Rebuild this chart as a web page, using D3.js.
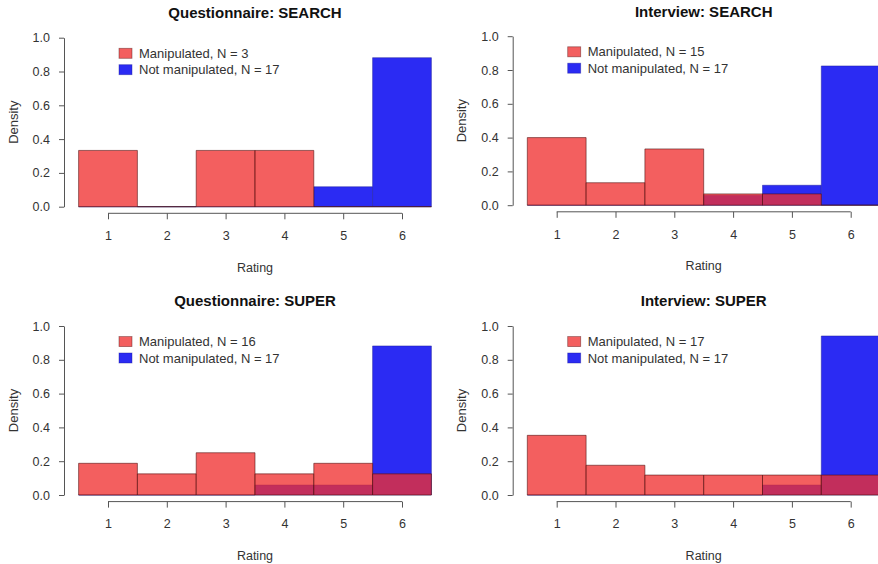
<!DOCTYPE html>
<html>
<head>
<meta charset="utf-8">
<script src="https://cdn.jsdelivr.net/npm/d3@7"></script>
<style>
  body { margin: 0; background: #fff; }
  svg { display: block; font-family: "Liberation Sans", Arial, sans-serif; }
</style>
</head>
<body>
<svg id="chart"></svg>
<script>
// Размеры
const width = 878;
const height = 564;

// Данные: плотность оценок по панелям
const ratings = [1, 2, 3, 4, 5, 6];
const yTicks = [0, 0.2, 0.4, 0.6, 0.8, 1.0];
const panelTitles = ["Questionnaire: SEARCH", "Interview: SEARCH", "Questionnaire: SUPER", "Interview: SUPER"];
const manipulatedN = [3, 15, 16, 17];
const notManipulatedN = [17, 17, 17, 17];
const manipulatedDensity = [
    [0.333, 0, 0.333, 0.333, 0, 0],
    [0.4, 0.133, 0.333, 0.067, 0.067, 0],
    [0.1875, 0.125, 0.25, 0.125, 0.1875, 0.125],
    [0.353, 0.176, 0.118, 0.118, 0.118, 0.118]
];
const notManipulatedDensity = [
    [0, 0, 0, 0, 0.118, 0.882],
    [0, 0, 0, 0.059, 0.118, 0.824],
    [0, 0, 0, 0.059, 0.059, 0.882],
    [0, 0, 0, 0, 0.059, 0.941]
];

// Смещения панелей
const offsets = [[0, 0], [448.7, -1.5], [0, 288.3], [448.7, 288.3]];

const redFill = "rgb(239,47,47)", redOpacity = 0.77;
const blueFill = "rgb(43,43,243)";

const svg = d3.select("#chart")
    .attr("width", width)
    .attr("height", height);

const x = d3.scaleLinear().domain([0.5, 6.5]).range([78.6, 431.4]);
const y = d3.scaleLinear().domain([0, 1]).range([206.7, 37.7]);

// Контур столбца как path, чтобы нулевые столбцы рисовались линией
function barPath(d) {
    const x0 = x(d.r - 0.5), x1 = x(d.r + 0.5);
    return `M${x0},${y(0)}V${y(d.v)}H${x1}V${y(0)}Z`;
}

panelTitles.forEach((title, i) => {
    const g = svg.append("g")
        .attr("transform", `translate(${offsets[i][0]},${offsets[i][1]})`);

    // Синие столбцы (не манипулированные)
    g.append("g")
        .selectAll("path")
        .data(ratings.map((r, k) => ({ r, v: notManipulatedDensity[i][k] })))
        .enter()
        .append("path")
        .attr("d", barPath)
        .attr("fill", blueFill)
        .attr("stroke", "#1c1c9a")
        .attr("stroke-opacity", 0.6)
        .attr("stroke-width", 0.8);

    // Красные столбцы поверх (полупрозрачные)
    g.append("g")
        .selectAll("path")
        .data(ratings.map((r, k) => ({ r, v: manipulatedDensity[i][k] })))
        .enter()
        .append("path")
        .attr("d", barPath)
        .attr("fill", redFill)
        .attr("fill-opacity", redOpacity)
        .attr("stroke", "#4a0c0c")
        .attr("stroke-opacity", 0.7)
        .attr("stroke-width", 0.8);

    // Ось Y
    const yAxis = g.append("g")
        .attr("transform", "translate(64,0)")
        .call(d3.axisLeft(y).tickValues(yTicks).tickFormat(d3.format(".1f"))
            .tickSize(5).tickSizeOuter(0).tickPadding(9));
    yAxis.select(".domain").attr("stroke", "#555");
    yAxis.selectAll(".tick line").attr("stroke", "#555");
    yAxis.selectAll("text").attr("fill", "#333").style("font-size", "12.5px");

    // Ось X: линия только от первой до последней метки
    const xAxis = g.append("g")
        .attr("transform", "translate(0,213.3)")
        .call(d3.axisBottom(x).tickValues(ratings).tickFormat(d3.format("d"))
            .tickSize(6).tickSizeOuter(0).tickPadding(12));
    xAxis.select(".domain").remove();
    xAxis.append("line")
        .attr("x1", x(ratings[0]))
        .attr("x2", x(ratings[ratings.length - 1]))
        .attr("stroke", "#555");
    xAxis.selectAll(".tick line").attr("stroke", "#555");
    xAxis.selectAll("text").attr("fill", "#333").style("font-size", "12.5px");

    // Заголовок
    g.append("text")
        .attr("x", (x.range()[0] + x.range()[1]) / 2)
        .attr("y", 18)
        .attr("text-anchor", "middle")
        .attr("font-weight", "bold")
        .attr("font-size", "15px")
        .attr("fill", "#111")
        .text(title);

    // Подписи осей
    g.append("text")
        .attr("x", (x.range()[0] + x.range()[1]) / 2)
        .attr("y", 271.5)
        .attr("text-anchor", "middle")
        .attr("font-size", "12.5px")
        .attr("fill", "#333")
        .text("Rating");

    g.append("text")
        .attr("transform", `translate(17.5,${(y(0) + y(1)) / 2}) rotate(-90)`)
        .attr("text-anchor", "middle")
        .attr("font-size", "13px")
        .attr("fill", "#333")
        .text("Density");

    // Легенда
    const legend = [
        { label: `Manipulated, N = ${manipulatedN[i]}`, fill: redFill, op: redOpacity, stroke: "#4a0c0c" },
        { label: `Not manipulated, N = ${notManipulatedN[i]}`, fill: blueFill, op: 1, stroke: "#1c1c9a" }
    ];
    const lg = g.append("g").selectAll("g")
        .data(legend)
        .enter()
        .append("g")
        .attr("transform", (d, k) => `translate(0,${53.3 + k * 16.4})`);
    lg.append("rect")
        .attr("x", 119)
        .attr("y", -5)
        .attr("width", 13)
        .attr("height", 10)
        .attr("fill", d => d.fill)
        .attr("fill-opacity", d => d.op)
        .attr("stroke", d => d.stroke)
        .attr("stroke-opacity", 0.5)
        .attr("stroke-width", 0.8);
    lg.append("text")
        .attr("x", 139)
        .attr("y", 4.5)
        .attr("font-size", "13px")
        .attr("fill", "#333")
        .text(d => d.label);
});
</script>
</body>
</html>
